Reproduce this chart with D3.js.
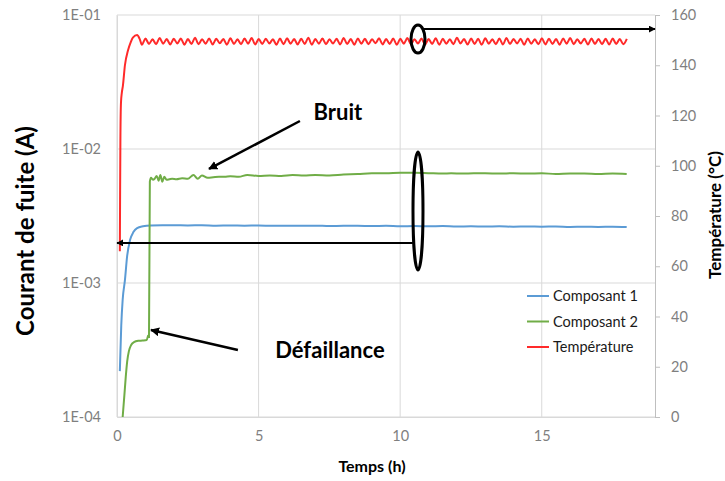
<!DOCTYPE html>
<html><head><meta charset="utf-8">
<script src="https://cdn.jsdelivr.net/npm/d3@7"></script>
<style>body{margin:0;background:#fff}svg{display:block}</style>
</head><body>
<svg id="c" width="725" height="481"></svg>
<script>
// ---- data ----
const xTicks = [0, 5, 10, 15];
const leftTicks = [1e-4, 1e-3, 1e-2, 1e-1];
const leftTickLabels = ["1E-04", "1E-03", "1E-02", "1E-01"];
const rightTicks = [0, 20, 40, 60, 80, 100, 120, 140, 160];
const seriesNames = ["Composant 1", "Composant 2", "Température"];
const seriesColors = ["#5b9bd5", "#70ad47", "#ff2a2a"];

const c1Time = [0.1,0.15,0.2,0.28,0.36,0.46,0.58,0.71,0.92,1.2,1.6,2,2.5,3,3.5,4,4.5,5,5.5,6,6.5,7,7.5,8,8.5,9,9.5,10,10.5,11,11.5,12,12.5,13,13.5,14,14.5,15,15.5,16,16.5,17,17.5,18];
const c1Values = [2.2e-4,4.8e-4,7.5e-4,1.05e-3,1.6e-3,2.09e-3,2.4e-3,2.57e-3,2.65e-3,2.69e-3,2.7e-3,2.7e-3,
  2.69e-3,2.7e-3,2.68e-3,2.69e-3,2.68e-3,2.69e-3,2.67e-3,2.68e-3,2.67e-3,2.68e-3,
  2.66e-3,2.67e-3,2.67e-3,2.66e-3,2.67e-3,2.65e-3,2.66e-3,2.65e-3,2.66e-3,2.64e-3,
  2.65e-3,2.64e-3,2.65e-3,2.63e-3,2.64e-3,2.63e-3,2.64e-3,2.62e-3,2.63e-3,2.62e-3,
  2.63e-3,2.62e-3];

const c2Time = [0.2,0.26,0.31,0.36,0.42,0.5,0.6,0.75,0.9,1.05,
  1.1,1.13,1.16,1.2,1.27,1.33,1.4,1.47,1.53,1.6,
  1.67,1.75,1.85,1.95,2.1,2.3,2.5,2.7,2.85,3.0,
  3.2,3.4,3.6,3.8,4.0,4.3,4.6,5.0,5.4,5.8,
  6.2,6.6,7.0,7.5,8.0,8.5,9.0,9.5,10.0,10.5,
  11,11.5,11.8,12.2,12.6,13,13.5,14,14.5,15,
  15.5,16,16.5,17,17.5,18];
const c2Values = [1.0e-4,1.45e-4,2.0e-4,2.6e-4,3.1e-4,3.45e-4,3.62e-4,3.7e-4,3.72e-4,3.75e-4,
  4.05e-4,3.95e-4,5.7e-3,6.1e-3,5.9e-3,6.0e-3,6.3e-3,5.8e-3,6.4e-3,5.7e-3,
  6.2e-3,5.9e-3,5.95e-3,6.0e-3,5.95e-3,6.05e-3,6.0e-3,6.4e-3,6.0e-3,6.35e-3,
  6.1e-3,6.15e-3,6.2e-3,6.2e-3,6.25e-3,6.2e-3,6.4e-3,6.3e-3,6.35e-3,6.3e-3,
  6.4e-3,6.35e-3,6.4e-3,6.35e-3,6.45e-3,6.5e-3,6.6e-3,6.6e-3,6.65e-3,6.65e-3,
  6.6e-3,6.55e-3,6.6e-3,6.55e-3,6.6e-3,6.6e-3,6.55e-3,6.6e-3,6.55e-3,6.6e-3,
  6.5e-3,6.55e-3,6.55e-3,6.5e-3,6.55e-3,6.5e-3];

const tempRiseTime = [0.1,0.11,0.12,0.14,0.17,0.21,0.28,0.39,0.48,0.56,0.71,0.8];
const tempRise = [66,90,110,125,129,132,140,146,149,151,152,150.5];
const tempOscStart = 0.88, tempOscStep = 0.125;
const tempOsc = [
148.2,150.6,148.5,150.3,148.4,150.8,148.6,150.4,148.3,150.5,
148.7,150.6,148.2,150.4,148.5,150.9,148.4,150.3,148.6,150.6,
148.3,150.5,148.8,150.4,148.2,150.7,148.5,150.3,148.4,150.6,
148.6,150.8,148.3,150.4,148.5,150.5,148.7,150.3,148.2,150.6,
148.4,150.7,148.6,150.4,148.3,150.5,148.5,150.9,148.2,150.4,
148.6,150.6,148.4,150.3,148.7,150.5,148.3,150.8,148.5,150.4,
148.2,150.6,148.6,150.5,148.4,150.3,148.8,150.7,148.3,150.4,
148.5,150.6,148.2,150.5,148.6,150.8,148.4,150.3,148.7,150.6,
148.3,150.4,148.5,150.7,148.2,150.5,148.6,150.3,148.4,150.9,
148.7,150.4,148.3,150.6,148.5,150.5,148.2,150.7,148.6,150.3,
148.4,150.6,148.3,150.8,148.5,150.4,148.7,150.5,148.2,150.6,
148.6,150.3,148.4,150.7,148.3,150.5,148.5,150.4,148.2,150.6,
148.6,150.8,148.4,150.3,148.7,150.5,148.3,150.6,148.5,150.4,
148.4,150.5,148.3,150.6,148.5,150.4,148.4,150.5];

// ---- layout ----
const svg = d3.select("#c");
const L = 117, R = 655, T = 15, B = 417;
const x = d3.scaleLinear().domain([0, 19]).range([L, R]);
const yL = d3.scaleLog().domain([1e-4, 1e-1]).range([B, T]);
const yR = d3.scaleLinear().domain([0, 160]).range([B, T]);
const FONT = "Lato, 'Open Sans', sans-serif";
const grid = "#d9d9d9";

// gridlines
svg.append("g").selectAll("line").data(leftTicks).join("line")
  .attr("x1", L).attr("x2", R).attr("y1", d => yL(d)).attr("y2", d => yL(d))
  .attr("stroke", grid).attr("stroke-width", 1);
svg.append("g").selectAll("line").data(xTicks).join("line")
  .attr("x1", d => x(d)).attr("x2", d => x(d)).attr("y1", T).attr("y2", B)
  .attr("stroke", grid).attr("stroke-width", 1);

// bottom axis
const gx = svg.append("g").attr("transform", `translate(0,${B})`)
  .call(d3.axisBottom(x).tickValues(xTicks).tickSize(0).tickPadding(14));
gx.select(".domain").attr("stroke", grid);
gx.selectAll("text").attr("font-family", FONT).attr("font-size", 14.5).attr("fill", "#7f7f7f");

// left axis
const gl = svg.append("g").attr("transform", `translate(${L},0)`)
  .call(d3.axisLeft(yL).tickValues(leftTicks).tickFormat((d, i) => leftTickLabels[i]).tickSize(0).tickPadding(16));
gl.select(".domain").attr("stroke", grid);
gl.selectAll("text").attr("font-family", FONT).attr("font-size", 14.5).attr("fill", "#7f7f7f");

// right axis
const gr = svg.append("g").attr("transform", `translate(${R},0)`)
  .call(d3.axisRight(yR).tickValues(rightTicks).tickSize(5).tickPadding(11));
gr.select(".domain").attr("stroke", "#bfbfbf");
gr.selectAll("line").attr("stroke", "#bfbfbf");
gr.selectAll("text").attr("font-family", FONT).attr("font-size", 14.5).attr("fill", "#7f7f7f");

// axis titles
svg.append("text").attr("transform", `translate(34,231) rotate(-90)`)
  .attr("text-anchor", "middle").attr("font-family", FONT).attr("font-weight", "bold")
  .attr("font-size", 24).attr("fill", "#000").text("Courant de fuite (A)");
svg.append("text").attr("transform", `translate(721,215) rotate(-90)`)
  .attr("text-anchor", "middle").attr("font-family", FONT).attr("font-weight", "bold")
  .attr("font-size", 17).attr("fill", "#000").text("Température (°C)");
svg.append("text").attr("x", 372).attr("y", 472)
  .attr("text-anchor", "middle").attr("font-family", FONT).attr("font-weight", "bold")
  .attr("font-size", 16).attr("fill", "#000").text("Temps (h)");

// series
const lineL = d3.line().x(d => x(d[0])).y(d => yL(d[1])).curve(d3.curveMonotoneX);
const lineR = d3.line().x(d => x(d[0])).y(d => yR(d[1])).curve(d3.curveMonotoneX);
const c1Data = c1Time.map((t, i) => [t, c1Values[i]]);
const c2Data = c2Time.map((t, i) => [t, c2Values[i]]);
const tempData = tempRiseTime.map((t, i) => [t, tempRise[i]])
  .concat(tempOsc.map((v, i) => [tempOscStart + i * tempOscStep, v]));

svg.append("path").attr("d", lineL(c1Data)).attr("fill", "none")
  .attr("stroke", seriesColors[0]).attr("stroke-width", 2);
svg.append("path").attr("d", lineL(c2Data)).attr("fill", "none")
  .attr("stroke", seriesColors[1]).attr("stroke-width", 2);
svg.append("path").attr("d", lineR(tempData)).attr("fill", "none")
  .attr("stroke", seriesColors[2]).attr("stroke-width", 2);

// legend
const lg = svg.append("g").attr("transform", "translate(527,296)");
seriesNames.forEach((n, i) => {
  const g = lg.append("g").attr("transform", `translate(0,${i * 25.5})`);
  g.append("line").attr("x1", 0).attr("x2", 22).attr("y1", 0).attr("y2", 0)
    .attr("stroke", seriesColors[i]).attr("stroke-width", 2);
  g.append("text").attr("x", 26).attr("y", 0).attr("dy", "0.35em")
    .attr("font-family", FONT).attr("font-size", 14.5).attr("fill", "#1a1a1a").text(n);
});

// annotations (in data coordinates)
const defs = svg.append("defs");
defs.append("marker").attr("id", "ah").attr("viewBox", "0 0 10 10").attr("refX", 9).attr("refY", 5)
  .attr("markerWidth", 9).attr("markerHeight", 9).attr("markerUnits", "userSpaceOnUse").attr("orient", "auto")
  .append("path").attr("d", "M0,0L10,5L0,10z").attr("fill", "#000");
defs.append("marker").attr("id", "ah2").attr("viewBox", "0 0 10 10").attr("refX", 9).attr("refY", 5)
  .attr("markerWidth", 7).attr("markerHeight", 7).attr("markerUnits", "userSpaceOnUse").attr("orient", "auto")
  .append("path").attr("d", "M0,0L10,5L0,10z").attr("fill", "#000");

// Bruit
svg.append("text").attr("x", x(7.8)).attr("y", yL(0.0189)).attr("dy", "0.35em")
  .attr("text-anchor", "middle").attr("font-family", FONT).attr("font-weight", "bold")
  .attr("font-size", 22).attr("fill", "#000").text("Bruit");
svg.append("line").attr("x1", x(6.46)).attr("y1", yL(0.01618)).attr("x2", x(3.25)).attr("y2", yL(0.0071))
  .attr("stroke", "#000").attr("stroke-width", 2.5).attr("marker-end", "url(#ah)");
// Défaillance
svg.append("text").attr("x", x(7.52)).attr("y", yL(3.16e-4)).attr("dy", "0.35em")
  .attr("text-anchor", "middle").attr("font-family", FONT).attr("font-weight", "bold")
  .attr("font-size", 22).attr("fill", "#000").text("Défaillance");
svg.append("line").attr("x1", x(4.27)).attr("y1", yL(3.16e-4)).attr("x2", x(1.2)).attr("y2", yL(4.46e-4))
  .attr("stroke", "#000").attr("stroke-width", 2.5).attr("marker-end", "url(#ah)");

// current ellipse + arrow to left axis
svg.append("ellipse").attr("cx", x(10.63)).attr("cy", yL(3.44e-3)).attr("rx", 5).attr("ry", 59)
  .attr("fill", "none").attr("stroke", "#000").attr("stroke-width", 3);
svg.append("line").attr("x1", x(10.45)).attr("y1", yL(1.99e-3)).attr("x2", x(0)).attr("y2", yL(1.99e-3))
  .attr("stroke", "#000").attr("stroke-width", 2).attr("marker-end", "url(#ah2)");
// temperature ellipse + arrow to right axis
svg.append("ellipse").attr("cx", x(10.63)).attr("cy", yR(150.4)).attr("rx", 7).attr("ry", 14)
  .attr("fill", "none").attr("stroke", "#000").attr("stroke-width", 3);
svg.append("line").attr("x1", x(10.8)).attr("y1", yR(154.4)).attr("x2", x(19)).attr("y2", yR(154.4))
  .attr("stroke", "#000").attr("stroke-width", 2).attr("marker-end", "url(#ah2)");
</script>
</body></html>
